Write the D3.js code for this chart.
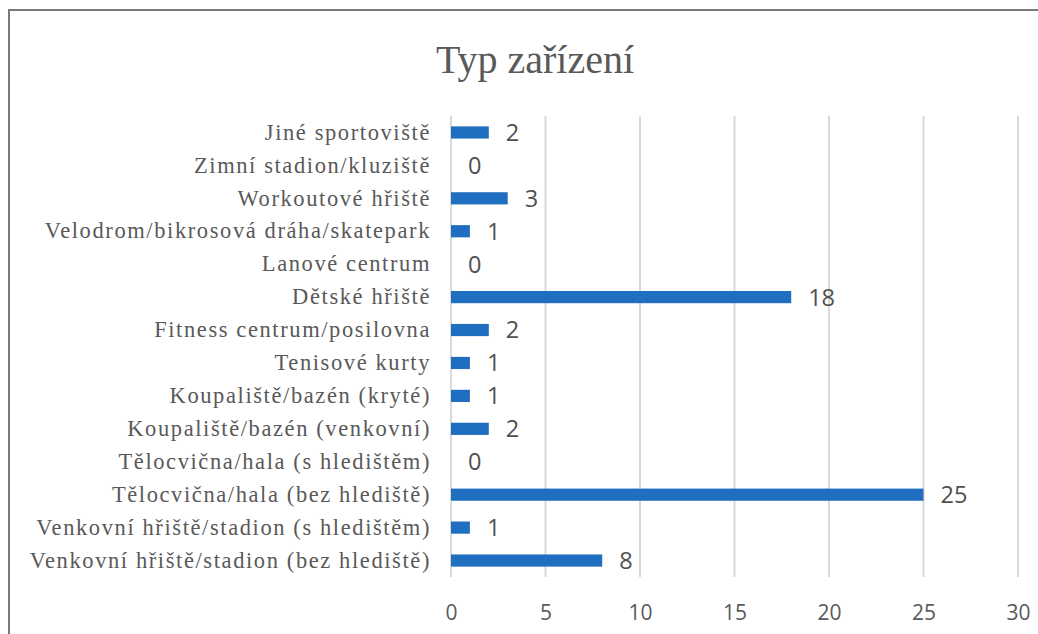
<!DOCTYPE html>
<html>
<head>
<meta charset="utf-8">
<script src="https://cdn.jsdelivr.net/npm/d3@7"></script>
<style>
  body { margin: 0; background: #fff; }
</style>
</head>
<body>
<div id="chart"></div>
<script>
// categories listed top to bottom as in the chart
var categories = [
  "Jiné sportoviště",
  "Zimní stadion/kluziště",
  "Workoutové hřiště",
  "Velodrom/bikrosová dráha/skatepark",
  "Lanové centrum",
  "Dětské hřiště",
  "Fitness centrum/posilovna",
  "Tenisové kurty",
  "Koupaliště/bazén (kryté)",
  "Koupaliště/bazén (venkovní)",
  "Tělocvična/hala (s hledištěm)",
  "Tělocvična/hala (bez hlediště)",
  "Venkovní hřiště/stadion (s hledištěm)",
  "Venkovní hřiště/stadion (bez hlediště)"
];
var counts = [2, 0, 3, 1, 0, 18, 2, 1, 1, 2, 0, 25, 1, 8];
var xTicks = [0, 5, 10, 15, 20, 25, 30];
var title = "Typ zařízení";

var width = 1038, height = 634;
var svg = d3.select("#chart").append("svg")
  .attr("width", width)
  .attr("height", height);

// outer frame (only left and top edges visible)
svg.append("path")
  .attr("d", "M9,634 V10 H1038")
  .attr("fill", "none")
  .attr("stroke", "#7a7a7a")
  .attr("stroke-width", 2);

svg.append("text")
  .attr("x", 535)
  .attr("y", 73)
  .attr("text-anchor", "middle")
  .attr("font-family", "'Liberation Serif', 'Times New Roman', serif")
  .attr("font-size", 40)
  .attr("fill", "#595959")
  .text(title);

var x = d3.scaleLinear().domain([0, 30]).range([451, 1018]);
var y = d3.scaleBand().domain(categories).range([116, 577]).paddingInner(0.63).paddingOuter(0.315);

// gridlines
svg.append("g")
  .selectAll("line")
  .data(xTicks)
  .join("line")
  .attr("x1", d => x(d))
  .attr("x2", d => x(d))
  .attr("y1", 116)
  .attr("y2", 577)
  .attr("stroke", "#d9d9d9")
  .attr("stroke-width", 2);

// x tick labels
var xAxis = d3.axisBottom(x).tickValues(xTicks).tickSize(0).tickPadding(0);
var gx = svg.append("g").attr("transform", "translate(0,612)").call(xAxis);
gx.select(".domain").remove();
gx.selectAll("text")
  .attr("dy", "0.36em")
  .attr("font-family", "'Open Sans', 'Liberation Sans', sans-serif")
  .attr("font-size", 21)
  .attr("fill", "#595959");

// category labels
var yAxis = d3.axisLeft(y).tickSize(0).tickPadding(0);
var gy = svg.append("g").attr("transform", "translate(431,0)").call(yAxis);
gy.select(".domain").remove();
gy.selectAll("text")
  .attr("font-family", "'Liberation Serif', 'Times New Roman', serif")
  .attr("font-size", 22.5)
  .attr("letter-spacing", "1.6px")
  .attr("fill", "#595959");

var data = categories.map((c, i) => ({ cat: c, val: counts[i] }));

// bars
svg.append("g")
  .selectAll("rect")
  .data(data)
  .join("rect")
  .attr("x", x(0))
  .attr("y", d => y(d.cat))
  .attr("width", d => x(d.val) - x(0))
  .attr("height", y.bandwidth())
  .attr("fill", "#1f6ebf");

// value labels
svg.append("g")
  .selectAll("text")
  .data(data)
  .join("text")
  .attr("x", d => x(d.val) + 17)
  .attr("y", d => y(d.cat) + y.bandwidth() / 2)
  .attr("dy", "0.36em")
  .attr("font-family", "'Open Sans', 'Liberation Sans', sans-serif")
  .attr("font-size", 23.5)
  .attr("fill", "#505050")
  .text(d => d.val);
</script>
</body>
</html>
